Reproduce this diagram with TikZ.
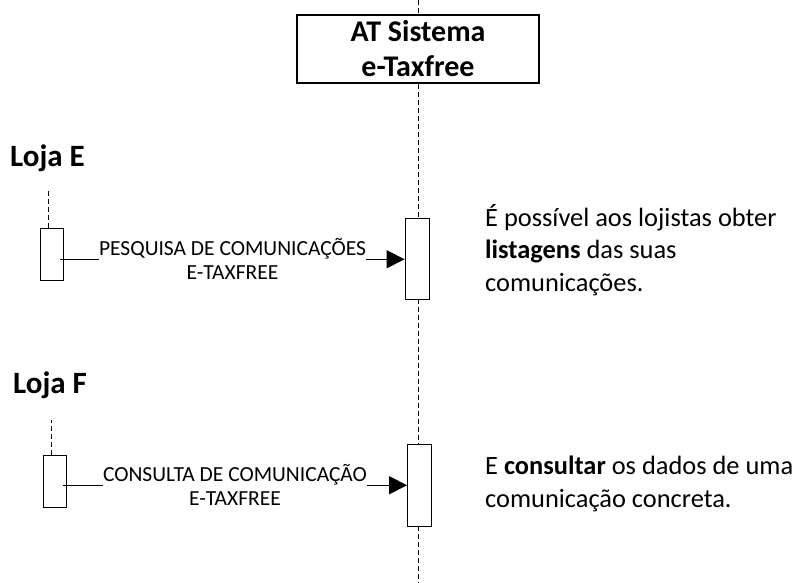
\documentclass[tikz,border=0pt]{standalone}
\usepackage{fontspec}
\setmainfont{Carlito}
\usetikzlibrary{arrows.meta}
\newcommand{\widthact}{23pt}
\newcommand{\heightsmall}{52pt}
\newcommand{\heightbig}{81pt}
\tikzset{
    common/.style={draw, rectangle, inner sep=0pt},
    sysbox/.style={common, line width=2pt, minimum width=242pt, minimum height=68pt, align=center, font=\bfseries\fontsize{30}{35}\selectfont},
    act/.style={common, line width=0.8pt, minimum width=\widthact},
    actsmall/.style={act, minimum height=\heightsmall},
    actbig/.style={act, minimum width=24pt, minimum height=\heightbig},
    lifeline/.style={dashed, dash pattern=on 5pt off 3pt, line width=0.9pt},
    shop/.style={anchor=base west, inner sep=0pt, font=\bfseries\fontsize{31}{37}\selectfont},
    msglabel/.style={anchor=south, align=center, inner sep=0pt, font=\fontsize{21.5}{24}\selectfont},
    msg/.style={line width=1.2pt},
    note/.style={anchor=base west, align=left, inner sep=0pt, font=\fontsize{26.4}{32.3}\selectfont}
}
\begin{document}
\begin{tikzpicture}[x=1pt, y=-1pt]
    \useasboundingbox (0,0) rectangle (795,583);
    % sistema
    \coordinate (top) at (418,0);
    \coordinate (bottom) at (418,583);
    \node[sysbox] (sys) at (418,49) {AT Sistema\\e-Taxfree};
    \node[actbig] (sysE) at (417,258.5) {};
    \node[actbig, minimum height=82pt] (sysF) at (419.5,485) {};
    \draw[lifeline] (top) -- (sys.north);
    \draw[lifeline] (sys.south) -- (sys.south |- sysE.north);
    \draw[lifeline] (sys.south |- sysE.south) -- (sys.south |- sysF.north);
    \draw[lifeline] (sys.south |- sysF.south) -- (bottom);

    % loja E
    \node[shop] (lojaE) at (10,166) {Loja E};
    \node[actsmall] (actE) at (51.5,254) {};
    \draw[lifeline] ([xshift=-3.5pt]actE.north) -- ++(0,-37);
    \node[msglabel] (msgE) at (232.5,280) {PESQUISA DE COMUNICAÇÕES\\E-TAXFREE};
    \draw[msg] ([xshift=-3pt]actE.east |- msgE.west) -- (msgE.west);
    \draw[msg, -{Triangle[length=18pt, width=18pt]}] (msgE.east) -- (sysE.west |- msgE.east);
    \node[note] (noteE) at (485,291) {É possível aos lojistas obter\\\textbf{listagens} das suas\\comunicações.};

    % loja F
    \node[shop] (lojaF) at (13,393) {Loja F};
    \node[actsmall] (actF) at (54.5,481) {};
    \draw[lifeline] ([xshift=-3.5pt]actF.north) -- ++(0,-35);
    \node[msglabel] (msgF) at (235,506) {CONSULTA DE COMUNICAÇÃO\\E-TAXFREE};
    \draw[msg] ([xshift=-3pt]actF.east |- msgF.west) -- (msgF.west);
    \draw[msg, -{Triangle[length=18pt, width=18pt]}] (msgF.east) -- (sysF.west |- msgF.east);
    \node[note] (noteF) at (485,507) {E \textbf{consultar} os dados de uma\\comunicação concreta.};
\end{tikzpicture}
\end{document}
